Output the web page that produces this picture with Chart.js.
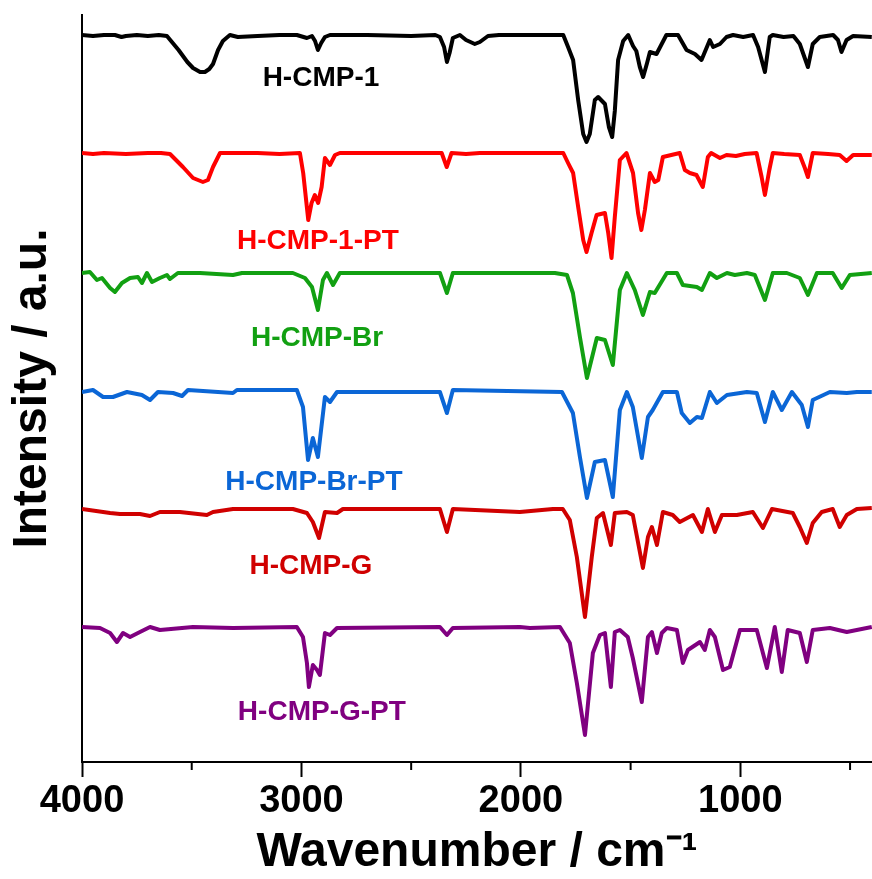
<!DOCTYPE html>
<html>
<head>
<meta charset="utf-8">
<title>FTIR spectra</title>
<script src="https://cdn.jsdelivr.net/npm/chart.js@4.4.1/dist/chart.umd.min.js"></script>
<style>
  html, body { margin: 0; padding: 0; background: #fff; }
  #wrap { width: 872px; height: 879px; }
</style>
</head>
<body>
<div id="wrap"><canvas id="ftir"></canvas></div>
<script>
//DATA
// each spectrum: [wavenumber (cm-1), intensity (a.u.)], baseline = 0, bands go down
const hcmp1 = [[4000,0],[3950,-1],[3900,0],[3850,0],[3820,-2],[3800,-1],[3750,0],[3700,-1],[3650,0],[3613,-1],[3560,-15],[3520,-27],[3494,-33],[3462,-37],[3440,-37],[3420,-34],[3403,-29],[3380,-15],[3358,-6],[3326,0],[3290,-2],[3200,-1],[3100,0],[3021,0],[2975,-3],[2952,-1],[2938,-6],[2925,-15],[2910,-8],[2893,-2],[2870,0],[2700,0],[2500,-1],[2390,0],[2369,-2],[2350,-12],[2337,-27],[2325,-18],[2310,-3],[2278,0],[2250,-5],[2210,-9],[2187,-7],[2150,-1],[2100,0],[1950,0],[1807,0],[1785,-12],[1762,-25],[1739,-65],[1716,-99],[1701,-107],[1686,-99],[1663,-65],[1648,-62],[1617,-69],[1599,-92],[1584,-102],[1572,-76],[1557,-25],[1534,-6],[1511,0],[1489,-11],[1474,-16],[1458,-32],[1443,-42],[1425,-28],[1412,-17],[1382,-19],[1337,0],[1284,0],[1245,-15],[1207,-19],[1177,-25],[1139,-5],[1124,-12],[1093,-9],[1063,-2],[1033,0],[987,-2],[942,0],[919,-12],[888,-37],[866,-2],[852,0],[803,-2],[758,-1],[729,-9],[692,-32],[670,-9],[638,-2],[577,0],[555,-5],[539,-17],[516,-5],[486,-1],[401,-2]];
const hcmp1pt = [[4000,0],[3950,-1],[3900,0],[3800,-1],[3700,0],[3640,0],[3599,-1],[3540,-14],[3494,-25],[3449,-29],[3426,-27],[3403,-14],[3371,0],[3200,0],[3100,-1],[3007,0],[2992,-20],[2969,-67],[2954,-50],[2939,-42],[2924,-50],[2908,-34],[2893,-5],[2870,-12],[2847,-2],[2825,0],[2600,0],[2361,0],[2338,-14],[2316,0],[2250,-1],[2187,0],[1807,0],[1785,-10],[1762,-20],[1739,-54],[1716,-87],[1701,-99],[1678,-80],[1655,-62],[1617,-60],[1602,-80],[1587,-105],[1572,-64],[1549,-7],[1519,0],[1489,-20],[1466,-60],[1451,-77],[1435,-57],[1412,-20],[1390,-29],[1374,-27],[1353,-4],[1276,0],[1253,-17],[1230,-20],[1200,-22],[1171,-34],[1148,-4],[1133,0],[1093,-5],[1063,-2],[1020,-3],[980,-1],[926,0],[903,-24],[888,-42],[868,-17],[852,0],[800,-1],[729,-2],[706,-15],[692,-24],[670,0],[600,-1],[547,-2],[516,-8],[486,-2],[401,-2]];
const hcmpBr = [[4000,0],[3964,1],[3932,-7],[3909,-5],[3872,-15],[3850,-19],[3818,-10],[3781,-5],[3745,-4],[3727,-10],[3704,0],[3681,-9],[3645,-5],[3613,-2],[3599,-6],[3563,0],[3462,0],[3312,-2],[3271,0],[3039,0],[2984,-5],[2952,-14],[2925,-37],[2902,-7],[2884,0],[2856,-12],[2825,0],[2369,0],[2337,-20],[2310,0],[2187,0],[1845,0],[1790,-2],[1763,-20],[1731,-64],[1699,-105],[1654,-65],[1617,-67],[1581,-92],[1549,-17],[1517,0],[1481,-17],[1444,-42],[1412,-19],[1390,-20],[1335,0],[1289,0],[1262,-12],[1198,-14],[1175,-17],[1139,0],[1107,-5],[1061,0],[1025,-2],[970,0],[934,-2],[888,-27],[852,0],[788,0],[729,-5],[692,-22],[651,0],[579,0],[538,-15],[501,-2],[401,0]];
const hcmpBrPt = [[4000,0],[3950,2],[3904,-5],[3859,-5],[3795,0],[3727,-3],[3690,-8],[3654,0],[3585,-1],[3544,-4],[3517,2],[3312,-1],[3294,2],[3021,2],[2993,-15],[2970,-68],[2948,-46],[2925,-65],[2893,-5],[2870,-10],[2838,0],[2369,0],[2337,-21],[2310,2],[1813,0],[1763,-21],[1731,-65],[1699,-106],[1663,-70],[1617,-68],[1581,-105],[1549,-18],[1517,0],[1490,-15],[1449,-66],[1421,-25],[1399,-18],[1353,0],[1289,0],[1267,-21],[1230,-31],[1198,-25],[1175,-26],[1139,0],[1107,-11],[1061,-3],[970,0],[925,-1],[888,-30],[852,0],[811,-18],[765,0],[720,-13],[692,-35],[670,-8],[592,0],[515,-1],[469,0],[401,0]];
const hcmpG = [[4000,0],[3872,-4],[3827,-5],[3736,-5],[3690,-7],[3645,-3],[3554,-3],[3431,-6],[3403,-3],[3312,0],[3039,0],[2975,-4],[2948,-13],[2920,-29],[2893,-3],[2838,-4],[2811,0],[2369,0],[2337,-23],[2310,0],[2005,-3],[1854,0],[1809,0],[1777,-11],[1745,-48],[1708,-108],[1677,-48],[1654,-9],[1626,-4],[1590,-36],[1572,-4],[1517,-3],[1490,-6],[1444,-59],[1421,-28],[1403,-18],[1380,-36],[1353,-3],[1308,-6],[1276,-13],[1216,-6],[1175,-23],[1148,0],[1116,-23],[1084,-6],[1016,-6],[943,-3],[897,-19],[856,0],[761,-4],[729,-18],[697,-34],[670,-14],[629,-3],[579,0],[547,-18],[515,-6],[469,0],[401,1]];
const hcmpGPt = [[4000,0],[3918,-1],[3872,-6],[3841,-15],[3813,-6],[3781,-10],[3736,-5],[3690,0],[3645,-3],[3494,0],[3312,-1],[3021,0],[2993,-10],[2975,-36],[2966,-60],[2948,-38],[2929,-43],[2916,-48],[2893,-6],[2870,-8],[2838,-1],[2369,0],[2337,-8],[2310,-1],[2005,0],[1959,-1],[1822,0],[1777,-16],[1745,-56],[1708,-108],[1672,-26],[1640,-8],[1617,-6],[1590,-60],[1572,-5],[1549,-3],[1513,-10],[1490,-31],[1449,-75],[1421,-10],[1403,-5],[1380,-26],[1358,-6],[1335,-1],[1289,-3],[1262,-36],[1239,-23],[1184,-15],[1162,-23],[1139,-3],[1116,-10],[1079,-43],[1048,-40],[1002,-3],[925,-3],[879,-41],[843,0],[811,-45],[784,-3],[729,-6],[697,-35],[670,-3],[592,-1],[515,-5],[401,0]];

const sampleNames = ["H-CMP-1", "H-CMP-1-PT", "H-CMP-Br", "H-CMP-Br-PT", "H-CMP-G", "H-CMP-G-PT"];
const spectra = [hcmp1, hcmp1pt, hcmpBr, hcmpBrPt, hcmpG, hcmpGPt];
const stackOffsets = [727, 609, 489, 370, 253, 135]; // vertical stacking offset, a.u.
const nameAt = [[2911,684],[2925,521],[2929,424],[2943,280],[2957,196],[2907,50]]; // [cm-1, a.u.]
const xTicks = [4000, 3500, 3000, 2500, 2000, 1500, 1000, 500];

const colors = ["#000000", "#ff0000", "#12a012", "#0b66d6", "#d00000", "#800080"];
const FONT = '"Liberation Sans", Arial, Helvetica, sans-serif';

Chart.defaults.font.family = FONT;
Chart.defaults.color = "#000";

//DATASETS
let datasets = [];
for (let i = 0; i < spectra.length; i++) {
  datasets.push({
    label: sampleNames[i],
    data: spectra[i].map((p) => ({ x: p[0], y: p[1] + stackOffsets[i] })),
    borderColor: colors[i],
    borderWidth: 4,
    borderJoinStyle: "round",
    pointRadius: 0,
    tension: 0,
    fill: false,
  });
}

//PLUGINS
// short minor ticks on the x axis
const minorTicks = {
  id: "minorTicks",
  afterDraw(chart) {
    const { ctx, scales: { x }, chartArea } = chart;
    ctx.save();
    ctx.strokeStyle = "#000";
    ctx.lineWidth = 2;
    for (let v of xTicks) {
      if (v % 1000 == 0) continue;
      let px = x.getPixelForValue(v);
      ctx.beginPath();
      ctx.moveTo(px, chartArea.bottom);
      ctx.lineTo(px, chartArea.bottom + 8);
      ctx.stroke();
    }
    ctx.restore();
  },
};

// sample names under each trace
const sampleLabels = {
  id: "sampleLabels",
  afterDatasetsDraw(chart) {
    const { ctx, scales: { x, y } } = chart;
    ctx.save();
    ctx.font = "bold 28px " + FONT;
    ctx.textAlign = "center";
    ctx.textBaseline = "middle";
    for (let i = 0; i < sampleNames.length; i++) {
      ctx.fillStyle = colors[i];
      ctx.fillText(sampleNames[i], x.getPixelForValue(nameAt[i][0]), y.getPixelForValue(nameAt[i][1]));
    }
    ctx.restore();
  },
};

//CHART
new Chart(document.getElementById("ftir"), {
  type: "line",
  data: { datasets: datasets },
  options: {
    responsive: true,
    maintainAspectRatio: false,
    animation: false,
    layout: { padding: { top: 15, right: 0, bottom: 0, left: 0 } },
    plugins: { legend: { display: false }, tooltip: { enabled: false } },
    scales: {
      x: {
        type: "linear",
        reverse: true,
        min: 400,
        max: 4000,
        afterBuildTicks: (scale) => {
          scale.ticks = xTicks.map((v) => ({ value: v }));
        },
        afterFit: (scale) => {
          scale.height = 117;
        },
        ticks: {
          autoSkip: false,
          maxRotation: 0,
          padding: 2,
          font: { size: 38, weight: "bold", lineHeight: 1.2 },
          callback: (v) => (v % 1000 == 0 ? String(v) : ""),
        },
        grid: {
          display: true,
          drawOnChartArea: false,
          drawTicks: true,
          tickLength: 15,
          tickWidth: 2,
          tickColor: (c) => (c.tick && c.tick.value % 1000 == 0 ? "#000" : "rgba(0,0,0,0)"),
        },
        border: { display: true, width: 2, color: "#000" },
        title: {
          display: true,
          text: "Wavenumber / cm\u207B\u00B9",
          font: { size: 48, weight: "bold", lineHeight: 1.1 },
          padding: 0,
        },
      },
      y: {
        min: 0,
        max: 747,
        afterFit: (scale) => {
          scale.width = 82;
        },
        ticks: { display: false },
        grid: { display: false, drawTicks: false },
        border: { display: true, width: 2, color: "#000" },
        title: {
          display: true,
          text: "Intensity / a.u.",
          font: { size: 48, weight: "bold", lineHeight: 1.2 },
          padding: { top: 4, bottom: 0 },
        },
      },
    },
  },
  plugins: [minorTicks, sampleLabels],
});
</script>
</body>
</html>
